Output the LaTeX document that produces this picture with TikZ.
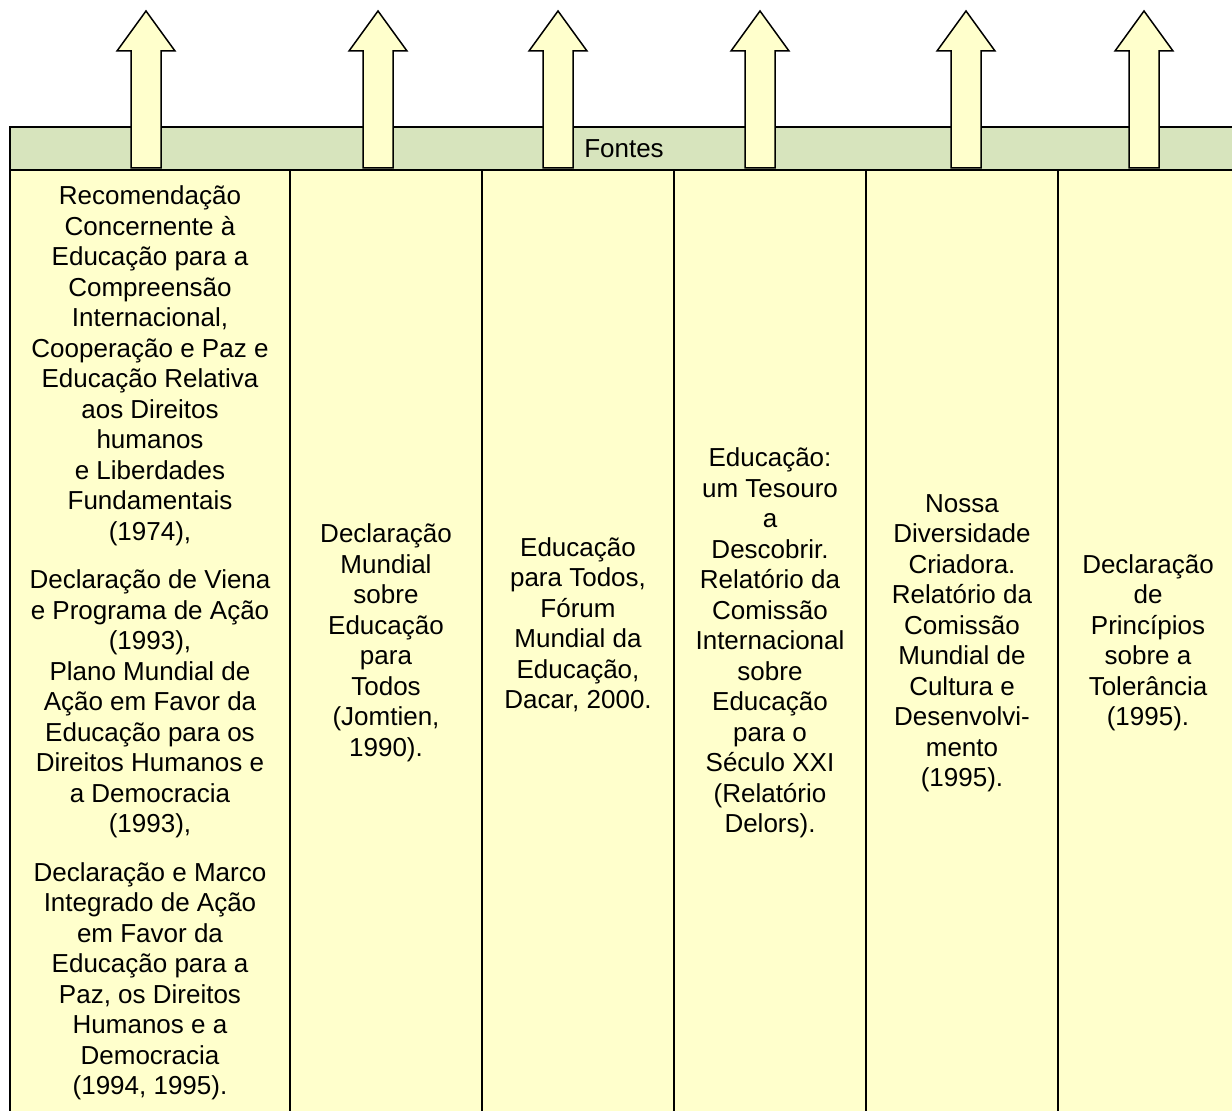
\documentclass[tikz,border=0pt]{standalone}
\usepackage{fontspec}
\setmainfont{Liberation Sans}
\usetikzlibrary{positioning}
\definecolor{verdefonte}{HTML}{D7E4BD}
\definecolor{amarelofonte}{HTML}{FFFFCC}
\tikzset{
    coluna/.style={draw, line width=1pt, fill=amarelofonte, minimum height=473pt, inner sep=0pt, outer sep=0pt, align=center, font=\fontsize{13pt}{15.25pt}\selectfont},
    faixa/.style={draw, line width=1pt, fill=verdefonte, minimum height=21.5pt, inner sep=0pt, outer sep=0pt, font=\fontsize{13pt}{15.25pt}\selectfont},
    seta/.style={draw, line width=0.75pt, fill=amarelofonte, line join=miter}
}

\begin{document}
\begin{tikzpicture}[x=0.5pt, y=-0.5pt]
    \clip (0,0) rectangle (1232,1111);
    \fill[white] (0,0) rectangle (1232,1111);

    % Colunas das fontes
    \node[coluna, minimum width=140pt, anchor=north west] (c1) at (10,170) {Recomendação\\ Concernente à\\ Educação para a\\ Compreensão\\ Internacional,\\ Cooperação e Paz e\\ Educação Relativa\\ aos Direitos\\ humanos\\ e Liberdades\\ Fundamentais\\ (1974),\\[9pt] Declaração de Viena\\ e Programa de Ação\\ (1993),\\ Plano Mundial de\\ Ação em Favor da\\ Educação para os\\ Direitos Humanos e\\ a Democracia\\ (1993),\\[9pt] Declaração e Marco\\ Integrado de Ação\\ em Favor da\\ Educação para a\\ Paz, os Direitos\\ Humanos e a\\ Democracia\\ (1994, 1995).};
    \node[coluna, minimum width=96pt, right=0pt of c1] (c2) {Declaração\\ Mundial\\ sobre\\ Educação\\ para\\ Todos\\ (Jomtien,\\ 1990).};
    \node[coluna, minimum width=96pt, right=0pt of c2] (c3) {Educação\\ para Todos,\\ Fórum\\ Mundial da\\ Educação,\\ Dacar, 2000.\\ \strut};
    \node[coluna, minimum width=96pt, right=0pt of c3] (c4) {Educação:\\ um Tesouro\\ a\\ Descobrir.\\ Relatório da\\ Comissão\\ Internacional\\ sobre\\ Educação\\ para o\\ Século XXI\\ (Relatório\\ Delors).};
    \node[coluna, minimum width=96pt, right=0pt of c4] (c5) {Nossa\\ Diversidade\\ Criadora.\\ Relatório da\\ Comissão\\ Mundial de\\ Cultura e\\ Desenvolvi-\\ mento\\ (1995).};
    \node[coluna, minimum width=90pt, right=0pt of c5] (c6) {Declaração\\ de\\ Princípios\\ sobre a\\ Tolerância\\ (1995).};

    % Faixa
    \node[faixa, minimum width=614pt, anchor=south west] (fontes) at (c1.north west) {Fontes};

    % Setas para cima
    \foreach \x in {146,378,558,760,966,1144} {
        \draw[seta] (\x-15,168) -- (\x-15,51) -- (\x-29,51) -- (\x,11) -- (\x+29,51) -- (\x+15,51) -- (\x+15,168) -- cycle;
    }
\end{tikzpicture}
\end{document}
